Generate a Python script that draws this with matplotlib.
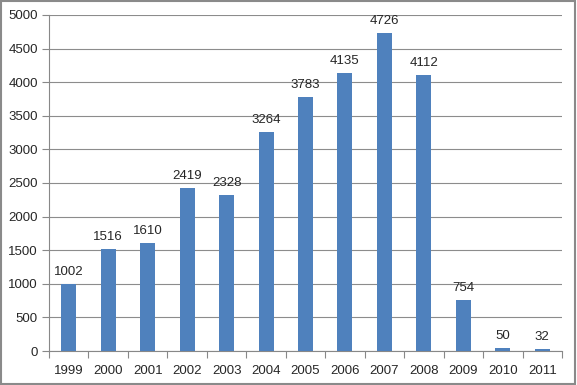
import matplotlib
matplotlib.use("Agg")
import matplotlib.pyplot as plt
from matplotlib.patches import Rectangle

years = ["1999", "2000", "2001", "2002", "2003", "2004", "2005",
         "2006", "2007", "2008", "2009", "2010", "2011"]
values = [1002, 1516, 1610, 2419, 2328, 3264, 3783, 4135, 4726, 4112, 754, 50, 32]
yticks = list(range(0, 5001, 500))

plt.rcParams['font.family'] = ['Liberation Sans', 'DejaVu Sans']
FS = 9.5

fig = plt.figure(figsize=(5.77, 3.85), dpi=100)
ax = fig.add_axes([49/577, 1-351/385, (562-49)/577, (351-15)/385])

x = list(range(len(years)))
ax.bar(x, values, width=0.38, color="#4F81BD", zorder=3)
for xi, v in zip(x, values):
    ax.text(xi, v + 90, str(v), ha="center", va="bottom", fontsize=FS, color="#262626")

ax.set_xlim(-0.5, len(years) - 0.5)
ax.set_ylim(0, 5000)
ax.set_yticks(yticks)
ax.set_yticklabels([str(t) for t in yticks], fontsize=FS, color="#262626")
ax.set_xticks(x)
ax.set_xticklabels(years, fontsize=FS, color="#262626")
ax.tick_params(axis="x", length=0, pad=10)
ax.set_xticks([i - 0.5 for i in range(len(years) + 1)], minor=True)
ax.tick_params(axis="x", which="minor", length=5, color="#888888", width=0.8)
ax.tick_params(axis="y", length=5, color="#888888", width=0.8, pad=3)
ax.grid(axis="y", color="#8c8c8c", linewidth=0.8, zorder=0)
for s in ["top", "right"]:
    ax.spines[s].set_visible(False)
for s in ["left", "bottom"]:
    ax.spines[s].set_color("#888888")
    ax.spines[s].set_linewidth(0.8)

fig.patches.append(Rectangle((0.002, 0.003), 0.995, 0.994, transform=fig.transFigure,
                             fill=False, edgecolor="#8a8a8a", linewidth=1.5))
fig.savefig("out.png", dpi=100)
